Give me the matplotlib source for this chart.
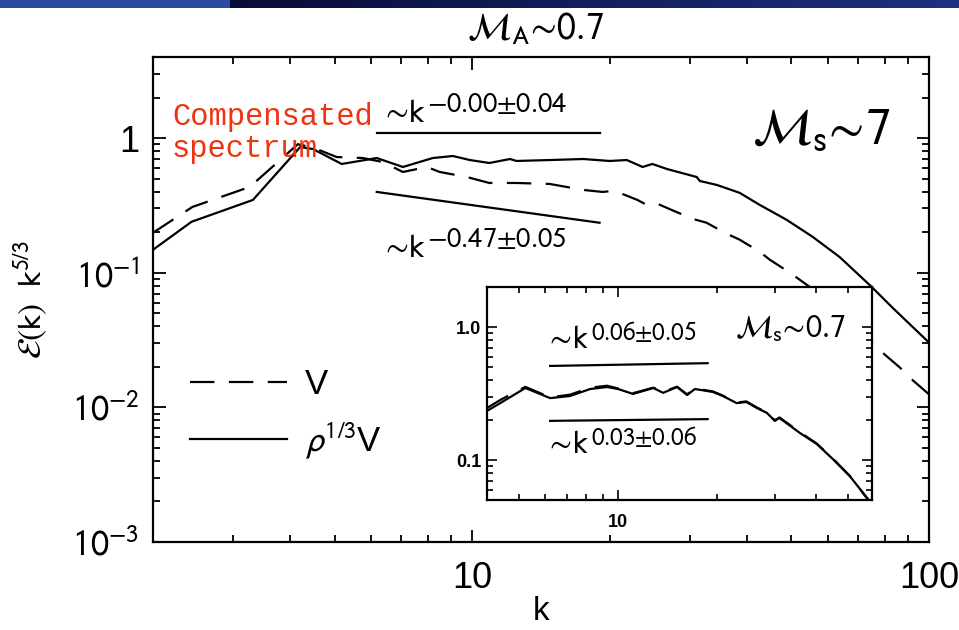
import numpy as np
import matplotlib
matplotlib.use('Agg')
import matplotlib.pyplot as plt
from matplotlib.ticker import LogLocator, NullFormatter

plt.rcParams['font.family'] = ['Liberation Sans', 'DejaVu Sans']
plt.rcParams['mathtext.fontset'] = 'stixsans'

# main panel, Ms ~ 7 : compensated spectra E(k) k^(5/3)
k_v = [2.0, 2.44, 3.26, 4.15, 4.48, 5.05, 5.76, 6.37, 7.05, 7.96, 8.49, 9.73,
       10.9, 12.5, 14.8, 17.5, 19.3, 20.3, 21.3, 23.0, 24.1, 25.5, 27.3, 30.4,
       32.6, 35.7, 38.5, 42.6, 44.8, 49.6, 60.0, 70.0, 79.1, 86.3, 90.6, 100.0]
e_v = [0.198, 0.308, 0.434, 0.90, 0.85, 0.723, 0.711, 0.664, 0.560, 0.610, 0.560, 0.514,
       0.464, 0.464, 0.456, 0.412, 0.398, 0.405, 0.385, 0.347, 0.319, 0.324, 0.293, 0.251,
       0.235, 0.198, 0.176, 0.143, 0.125, 0.100, 0.063, 0.038, 0.0255, 0.0198, 0.0167, 0.0125]

k_rho = [2.0, 2.43, 3.31, 4.20, 4.48, 5.18, 6.18, 7.05, 8.20, 9.07, 9.88, 10.9,
         12.1, 12.5, 14.8, 17.5, 20.0, 21.8, 23.6, 24.8, 26.7, 31.0, 31.5, 34.3,
         38.5, 42.6, 48.8, 55.6, 63.7, 74.8, 83.2, 100.0]
e_rho = [0.148, 0.239, 0.347, 0.858, 0.829, 0.642, 0.711, 0.610, 0.711, 0.736, 0.687, 0.653,
         0.699, 0.676, 0.687, 0.699, 0.676, 0.687, 0.610, 0.642, 0.589, 0.514, 0.480, 0.449,
         0.392, 0.319, 0.247, 0.185, 0.131, 0.0788, 0.0550, 0.0303]

fit_k = [6.18, 19.0]
fit_flat = [1.10, 1.10]
fit_slope = [0.398, 0.235]

# inset, Ms ~ 0.7
k_in = [4.0, 4.39, 5.23, 6.22, 7.15, 8.23, 9.26, 10.0, 11.1, 12.8, 13.7, 15.1, 16.2,
        17.1, 19.4, 20.8, 22.9, 24.5, 26.4, 28.3, 29.9, 30.9, 35.6, 40.1, 44.8, 50.5, 57.3]
e_in_rho = [0.234, 0.268, 0.348, 0.292, 0.303, 0.342, 0.354, 0.342, 0.314, 0.348, 0.320, 0.354, 0.308,
            0.342, 0.325, 0.303, 0.268, 0.273, 0.246, 0.226, 0.197, 0.207, 0.160, 0.132, 0.102, 0.0757, 0.051]
e_in_v = [0.246, 0.283, 0.355, 0.296, 0.310, 0.350, 0.362, 0.345, 0.318, 0.350, 0.325, 0.356, 0.312,
          0.345, 0.328, 0.305, 0.270, 0.276, 0.248, 0.228, 0.199, 0.209, 0.162, 0.133, 0.103, 0.076, 0.0505]

fit_in_k = [6.22, 18.7]
fit_in_up = [0.51, 0.535]
fit_in_lo = [0.197, 0.203]

DASH = (11, 6.5)

fig = plt.figure(figsize=(9.59, 6.3), dpi=100)


def power_label(a, x, y, sup, size, sup_size, rise):
    """'~k' with a large exponent drawn as its own text"""
    base = a.text(x, y, r'$\sim\!\mathrm{k}$', fontsize=size,
                  transform=a.transAxes, va='baseline')
    a.annotate(r'$\mathrm{' + sup + '}$', xy=(1, 0), xycoords=base,
               xytext=(1, rise), textcoords='offset points',
               fontsize=sup_size, va='baseline')


# slide banner across the top
band = fig.add_axes([0, 1 - 8 / 630, 1, 8 / 630])
grad = np.zeros((1, 959, 3))
grad[0, :230] = (0.17, 0.30, 0.62)
t = np.linspace(0, 1, 959 - 230)[:, None]
grad[0, 230:] = (1 - t) * np.array([0.03, 0.05, 0.22]) + t * np.array([0.12, 0.19, 0.50])
band.imshow(grad, aspect='auto')
band.axis('off')

ax = fig.add_axes([0.1595, 0.1397, 0.8092, 0.7698])
ax.set_xscale('log')
ax.set_yscale('log')
ax.plot(k_v, e_v, color='k', lw=1.6, dashes=DASH, label='V')
ax.plot(k_rho, e_rho, color='k', lw=1.6, label=r'$\rho^{1/3}$V')
ax.plot(fit_k, fit_flat, color='k', lw=1.6)
ax.plot(fit_k, fit_slope, color='k', lw=1.6)
ax.set_xlim(2, 100)
ax.set_ylim(1e-3, 4)

ax.set_xticks([10, 100], labels=['10', '100'])
ax.xaxis.set_minor_locator(LogLocator(subs=np.arange(2, 10), numticks=20))
ax.xaxis.set_minor_formatter(NullFormatter())
ax.set_yticks([1e-3, 1e-2, 1e-1, 1],
              labels=[r'$10^{-3}$', r'$10^{-2}$', r'$10^{-1}$', '1'])
ax.yaxis.set_minor_locator(LogLocator(subs=np.arange(2, 10), numticks=20))
ax.yaxis.set_minor_formatter(NullFormatter())
ax.tick_params(which='both', direction='in', top=True, right=True, width=1.3)
ax.tick_params(which='major', length=9, labelsize=26)
ax.tick_params(which='minor', length=5)
ax.tick_params(axis='x', pad=14)
ax.tick_params(axis='y', pad=10)
for s in ax.spines.values():
    s.set_linewidth(1.6)

ax.set_xlabel('k', fontsize=24)
ax.xaxis.set_label_coords(0.5, -0.112)
ax.set_ylabel(r'$\mathcal{E}\mathrm{(k)\ \ k}^{5/3}$', fontsize=24)
ax.yaxis.set_label_coords(-0.133, 0.5)

fig.text(0.558, 0.952, r'$\mathcal{M}_{\mathrm{A}}\!\sim\!0.7$', fontsize=27,
         ha='center', va='center')
ax.text(0.772, 0.849, r'$\mathcal{M}_{\mathrm{s}}\!\sim\!7$', fontsize=37,
        transform=ax.transAxes, va='center')
power_label(ax, 0.2925, 0.866, r'-0.00{\pm}0.04', 24, 20.5, 12)
power_label(ax, 0.2925, 0.5876, r'-0.47{\pm}0.05', 24, 20.5, 12)

# red annotation
ax.text(0.0245, 0.860, 'Compensated', family='Liberation Mono', color='#ee3311',
        fontsize=22, transform=ax.transAxes, va='baseline', zorder=5)
ax.text(0.0245, 0.794, 'spectrum', family='Liberation Mono', color='#ee3311',
        fontsize=22, transform=ax.transAxes, va='baseline', zorder=5)

ax.legend(loc='upper left', bbox_to_anchor=(0.0477, 0.358), frameon=False,
          fontsize=25, handlelength=2.8, handletextpad=0.5, labelspacing=0.55,
          borderaxespad=0, borderpad=0)

# inset
axin = fig.add_axes([0.5078, 0.2063, 0.4015, 0.3381])
axin.set_facecolor('white')
axin.set_xscale('log')
axin.set_yscale('log')
axin.plot(k_in, e_in_v, color='k', lw=1.6, dashes=DASH)
axin.plot(k_in, e_in_rho, color='k', lw=1.6)
axin.plot(fit_in_k, fit_in_up, color='k', lw=1.6)
axin.plot(fit_in_k, fit_in_lo, color='k', lw=1.6)
axin.set_xlim(4, 59)
axin.set_ylim(0.05, 2)
axin.set_xticks([10], labels=['10'])
axin.xaxis.set_minor_locator(LogLocator(subs=np.arange(2, 10), numticks=20))
axin.xaxis.set_minor_formatter(NullFormatter())
axin.set_yticks([0.1, 1.0], labels=['0.1', '1.0'])
axin.yaxis.set_minor_locator(LogLocator(subs=np.arange(2, 10), numticks=20))
axin.yaxis.set_minor_formatter(NullFormatter())
axin.tick_params(which='both', direction='in', top=True, right=True, width=1.2,
                 labelsize=13)
axin.tick_params(which='major', length=7)
axin.tick_params(which='minor', length=4)
axin.tick_params(axis='x', pad=10)
axin.tick_params(axis='y', pad=4)
for lab in axin.get_xticklabels() + axin.get_yticklabels():
    lab.set_fontweight('bold')
for s in axin.spines.values():
    s.set_linewidth(1.6)

power_label(axin, 0.151, 0.714, r'0.06{\pm}0.05', 23, 18, 11)
power_label(axin, 0.151, 0.22, r'0.03{\pm}0.06', 23, 18, 11)
axin.text(0.644, 0.80, r'$\mathcal{M}_{\mathrm{s}}\!\sim\!0.7$', fontsize=23,
          transform=axin.transAxes, va='center')

fig.savefig('out.png', dpi=100)
